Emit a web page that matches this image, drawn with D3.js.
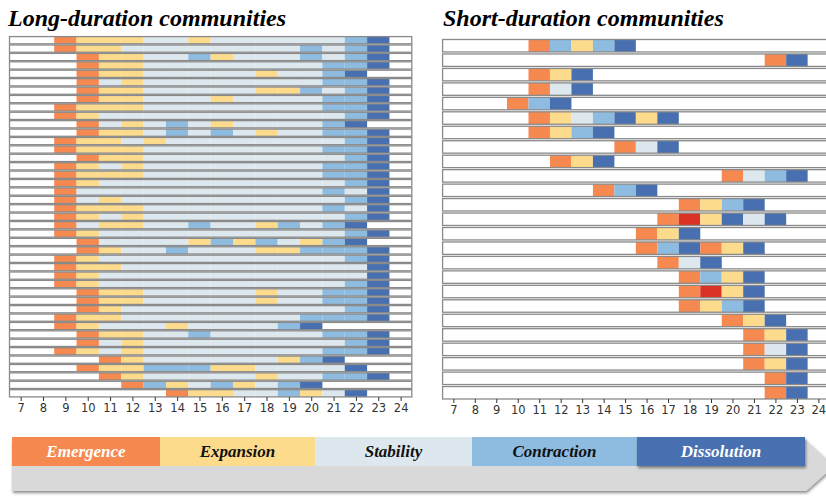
<!DOCTYPE html>
<html>
<head>
<meta charset="utf-8">
<script src="https://cdn.jsdelivr.net/npm/d3@7"></script>
<style>
  body { margin: 0; background: #fff; }
  .tick text { font-family: "DejaVu Sans", sans-serif; font-size: 11.5px; fill: #333; }
  .tick line { stroke: #333; }
  .title { font-family: "Liberation Serif", serif; font-weight: bold; font-style: italic; font-size: 24px; fill: #000; }
  .legendText { font-family: "Liberation Serif", serif; font-weight: bold; font-style: italic; font-size: 17px; }
</style>
</head>
<body>
<div id="chart"></div>
<script>
// Hours on the x axis
var hours = [7, 8, 9, 10, 11, 12, 13, 14, 15, 16, 17, 18, 19, 20, 21, 22, 23, 24];

// Phases: E emergence, X expansion, S stability, C contraction, D dissolution, R peak
var phaseNames = ["Emergence", "Expansion", "Stability", "Contraction", "Dissolution"];
var phaseCodes = ["E", "X", "S", "C", "D"];

// Long-duration communities: first hour + one state per hour
var longStart = [9, 9, 10, 10, 10, 10, 10, 10, 9, 9, 10, 10, 9, 9, 10, 9, 9, 9, 9, 9, 9, 9,
  9, 9, 10, 10, 9, 9, 9, 9, 10, 10, 10, 9, 9, 10, 10, 9, 11, 10, 11, 12, 14];
var longStates = [
  "EXXXSSXSSSSSSCD", "EXXSSSSSSSSCSCD", "EXXSSCXSSSCSCD", "EXXSSSSSSSSCCD",
  "EXXSSSSSXSSCD", "ESXSSSSSSSSCCD", "EXXSSSSSXXCSCD", "EXXSSSXSSSSCCD",
  "EXXXSSSSSSSSCCD", "EXSSSSSSSSSSSCD", "ESXSCSXSSSSCD", "EXXSCSCSXSSCCD",
  "EXXSXSSSSSSSSCD", "EXXXSSSSSSSSCCD", "EXXSSSSSSSSSCD", "EXSXSSSSSSSSCCD",
  "EXXXSSSSSSSSCCD", "EXSSSSSSSSSSSCD", "ESSSSSSSSSSSCSD", "ESXSSSSSSSSSSCD",
  "EXXXSSSSSSSSCSD", "EXSXSSSSSSSSSCD", "ESXXSSCSSXCSCD", "EXSSSSSSSSSSSCD",
  "ESSSSXCXCSXCD", "EXSSCSSSXXCCCD", "EXSSSSSSSSSSSCD", "EXXSSSSSSSSSSSD",
  "EXSSSSSSSSSSSSD", "EXSSSSSSSSSSSCD", "EXXSSSSSXSSCCD", "EXXSSSSSXSSCCD",
  "EXSSSSSSSSSSCD", "EXXSSSSSSSSCCCD", "EXSSSXSSSSCD", "EXXSSCSSSSSCCD",
  "ESXSSSSSSSSSCD", "EXSXSSSSSSSSCCD", "EXSSSSSSXCD", "EXXCCCXXSSSSD",
  "EXSSSSSXSSCCD", "ECXSCXSCD", "EXXSSCXSD"
];

// Short-duration communities
var shortStart = [11, 22, 11, 11, 10, 11, 11, 15, 12, 20, 14, 18, 17, 16, 16, 17, 18, 18, 18, 20, 21, 21, 21, 22, 22];
var shortStates = [
  "ECXCD", "ED", "EXD", "ESD", "ECD", "EXSCDXD", "EXCD", "ESD", "EXD", "ESCD",
  "ECD", "EXCD", "ERXDSD", "EXD", "ECDEXD", "ESD", "ECXD", "ERXD", "EXCD", "EXD",
  "EXD", "ESD", "EXD", "ED", "ED"
];

var color = {
  E: "#f6894f", X: "#fddb8c", S: "#dde7ee", C: "#8ebce0", D: "#4870b0", R: "#da3326"
};

var svgWidth = 826;
var svgHeight = 497;

var svg = d3.select("#chart")
  .append("svg")
  .attr("width", svgWidth)
  .attr("height", svgHeight);

function drawPanel(opts) {
  var starts = opts.starts, states = opts.states;
  var x = d3.scaleLinear().domain([6.5, 24.5]).range(opts.xRange);
  var y = d3.scaleBand()
    .domain(d3.range(states.length))
    .range(opts.yRange)
    .paddingInner(opts.pad)
    .paddingOuter(opts.pad / 2);
  var step = x(1) - x(0);

  var g = svg.append("g");

  var rows = g.selectAll("g.row")
    .data(states)
    .enter()
    .append("g")
    .attr("class", "row");

  rows.append("rect")
    .attr("x", x(6.5))
    .attr("y", (d, i) => y(i))
    .attr("width", x(24.5) - x(6.5))
    .attr("height", y.bandwidth())
    .attr("fill", "#fff");

  rows.selectAll("rect.cell")
    .data((d, i) => d.split("").map((c, k) => ({ row: i, hour: starts[i] + k, code: c })))
    .enter()
    .append("rect")
    .attr("class", "cell")
    .attr("x", d => x(d.hour - 0.5))
    .attr("y", d => y(d.row))
    .attr("width", step)
    .attr("height", y.bandwidth())
    .attr("fill", d => color[d.code]);

  rows.append("rect")
    .attr("x", x(6.5))
    .attr("y", (d, i) => y(i))
    .attr("width", x(24.5) - x(6.5))
    .attr("height", y.bandwidth())
    .attr("fill", "none")
    .attr("stroke", "#8a8a8a")
    .attr("stroke-width", 1.3);

  var axis = g.append("g")
    .attr("transform", `translate(0, ${opts.axisY})`)
    .call(d3.axisBottom(x).tickValues(hours).tickSize(4).tickPadding(3).tickFormat(d3.format("d")));
  axis.select(".domain").remove();

  svg.append("text")
    .attr("class", "title")
    .attr("x", opts.titleX)
    .attr("y", 26)
    .text(opts.title);
}

drawPanel({
  starts: longStart, states: longStates,
  xRange: [9.5, 411.8], yRange: [36, 397.5], pad: 0.14,
  axisY: 397, titleX: 8, title: "Long-duration communities"
});

drawPanel({
  starts: shortStart, states: shortStates,
  xRange: [442.6, 829.1], yRange: [38.5, 400], pad: 0.14,
  axisY: 399, titleX: 443, title: "Short-duration communities"
});

// Legend arrow
var legend = svg.append("g");
var defs = svg.append("defs");
var f = defs.append("filter").attr("id", "shadow").attr("x", "-5%").attr("y", "-20%").attr("width", "110%").attr("height", "150%");
f.append("feDropShadow").attr("dx", 1).attr("dy", 2).attr("stdDeviation", 1.5).attr("flood-color", "#000").attr("flood-opacity", 0.45);

legend.append("path")
  .attr("d", "M12,440 L806,440 L834,466 L806,491 L12,491 Z")
  .attr("fill", "#d9d9d9")
  .attr("filter", "url(#shadow)");

var segEdges = [12, 160, 315, 472, 637, 805];
legend.selectAll("rect.seg")
  .data(phaseNames)
  .enter()
  .append("rect")
  .attr("class", "seg")
  .attr("x", (d, i) => segEdges[i])
  .attr("y", 437)
  .attr("width", (d, i) => segEdges[i + 1] - segEdges[i])
  .attr("height", 29)
  .attr("fill", (d, i) => color[phaseCodes[i]])
  .attr("filter", (d, i) => i === 4 ? "url(#shadow)" : null);

legend.selectAll("text.legendText")
  .data(phaseNames)
  .enter()
  .append("text")
  .attr("class", "legendText")
  .attr("x", (d, i) => (segEdges[i] + segEdges[i + 1]) / 2)
  .attr("y", 457)
  .attr("text-anchor", "middle")
  .attr("fill", (d, i) => (i === 0 || i === 4) ? "#fff" : "#111")
  .text(d => d);
</script>
</body>
</html>
